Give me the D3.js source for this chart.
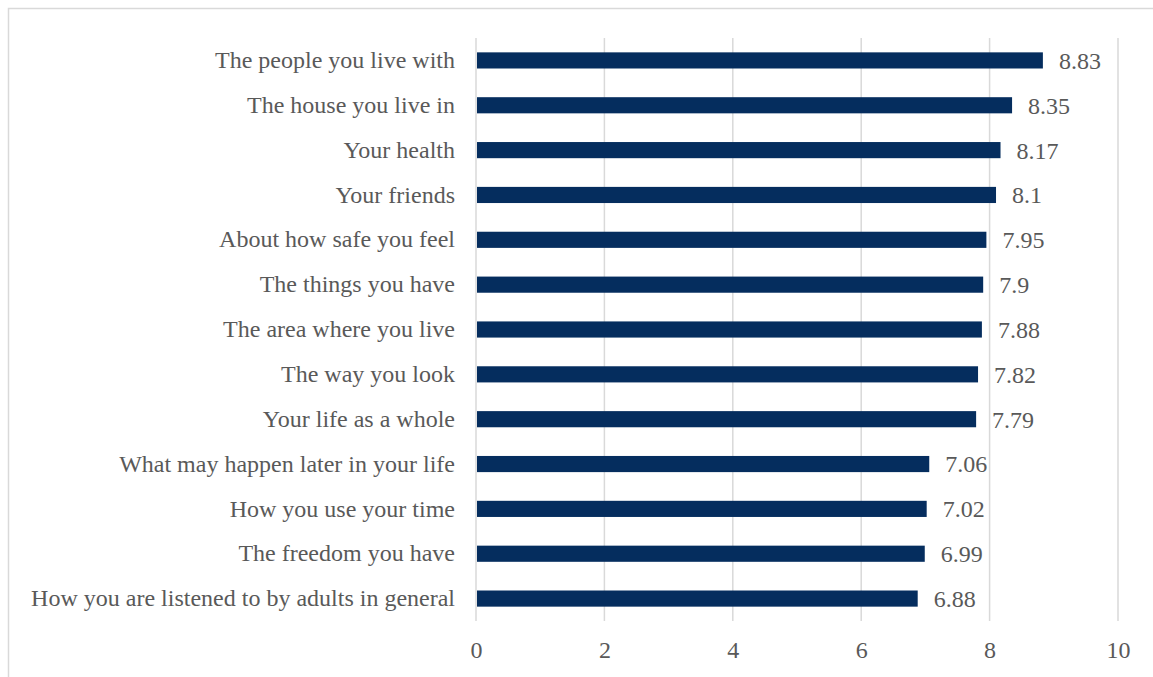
<!DOCTYPE html>
<html>
<head>
<meta charset="utf-8">
<script src="https://cdn.jsdelivr.net/npm/d3@7"></script>
<style>
    body { margin: 0; background: #fff; }
    text { font-family: "Liberation Serif", "Times New Roman", serif; fill: #595959; }
</style>
</head>
<body>
<svg id="chart" width="1153" height="677"></svg>
<script>
var categories = [
    "The people you live with",
    "The house you live in",
    "Your health",
    "Your friends",
    "About how safe you feel",
    "The things you have",
    "The area where you live",
    "The way you look",
    "Your life as a whole",
    "What may happen later in your life",
    "How you use your time",
    "The freedom you have",
    "How you are listened to by adults in general"
];
var values = [8.83, 8.35, 8.17, 8.1, 7.95, 7.9, 7.88, 7.82, 7.79, 7.06, 7.02, 6.99, 6.88];
var xTicks = [0, 2, 4, 6, 8, 10];

var margin = {top: 38, left: 476, right: 35, bottom: 56};
var W = 1153, H = 677;
var width = W - margin.left - margin.right,
    height = H - margin.top - margin.bottom;
var fontSize = "24px";

var svg = d3.select("#chart");

// chart area border (right/bottom fall outside the picture)
svg.append("rect")
    .attr("x", 8.5).attr("y", 8.5)
    .attr("width", 1160).attr("height", 700)
    .attr("fill", "none")
    .attr("stroke", "#d9d9d9")
    .attr("stroke-width", 1.5);

var g = svg.append("g")
    .attr("transform", "translate(" + margin.left + "," + margin.top + ")");

var x = d3.scaleLinear().domain([0, 10]).range([0, 642]);
var y = d3.scaleBand().domain(categories).range([0, height]).paddingInner(0.64).paddingOuter(0.32);

// gridlines
g.selectAll(".grid")
    .data(xTicks)
    .enter().append("line")
    .attr("class", "grid")
    .attr("x1", function (d) { return x(d); })
    .attr("x2", function (d) { return x(d); })
    .attr("y1", 0)
    .attr("y2", height)
    .attr("stroke", "#d9d9d9")
    .attr("stroke-width", 1.5);

// bars
g.selectAll(".bar")
    .data(values)
    .enter().append("rect")
    .attr("class", "bar")
    .attr("x", x(0) + 1)
    .attr("y", function (d, i) { return y(categories[i]); })
    .attr("width", function (d) { return x(d) - x(0) - 1; })
    .attr("height", y.bandwidth())
    .attr("fill", "#052d5e");

// value labels
g.selectAll(".val")
    .data(values)
    .enter().append("text")
    .attr("class", "val")
    .attr("x", function (d) { return x(d) + 16; })
    .attr("y", function (d, i) { return y(categories[i]) + y.bandwidth() / 2; })
    .attr("dy", "0.35em")
    .attr("font-size", fontSize)
    .text(function (d) { return d; });

// category axis
var yAxis = d3.axisLeft(y).tickSize(0).tickPadding(21);
var gy = g.append("g").call(yAxis);
gy.select(".domain").remove();
gy.selectAll("text").attr("font-size", fontSize).style("fill", "#595959");

// value axis
var xAxis = d3.axisBottom(x).tickValues(xTicks).tickSize(0).tickPadding(20);
var gx = g.append("g")
    .attr("transform", "translate(0," + height + ")")
    .call(xAxis);
gx.select(".domain").remove();
gx.selectAll("text").attr("font-size", fontSize).style("fill", "#595959");
</script>
</body>
</html>
